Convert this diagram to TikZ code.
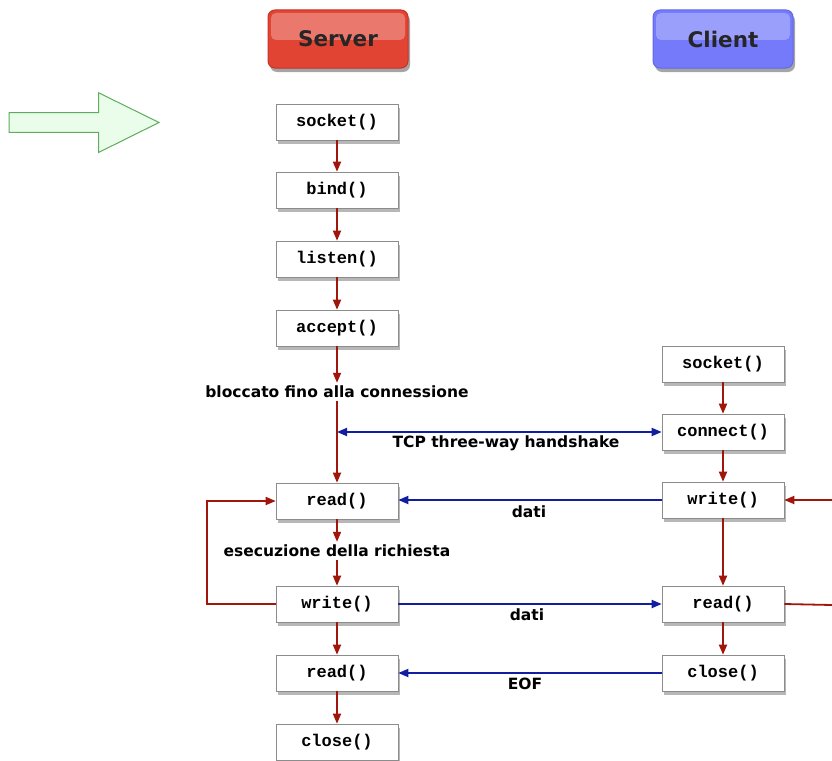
\documentclass[tikz,border=0pt]{standalone}
\usepackage{fontspec}
\setmainfont{DejaVu Sans}
\setmonofont{Liberation Mono}
\usetikzlibrary{arrows.meta,shadows,calc}

\definecolor{flowred}{RGB}{160,22,10}
\definecolor{flowblue}{RGB}{18,30,160}
\definecolor{srvfill}{RGB}{226,68,52}
\definecolor{srvline}{RGB}{200,50,38}
\definecolor{clifill}{RGB}{116,122,250}
\definecolor{cliline}{RGB}{98,104,236}
\definecolor{boxline}{RGB}{140,140,140}
\definecolor{hintfill}{RGB}{234,252,234}
\definecolor{hintline}{RGB}{92,174,92}

\tikzset{
  call/.style={draw=boxline, line width=0.6pt, fill=white,
    minimum width=122pt, minimum height=36pt, inner sep=0pt,
    font=\ttfamily\bfseries\fontsize{17}{19}\selectfont,
    drop shadow={shadow xshift=2pt, shadow yshift=-4pt, opacity=0.4, fill=black!70}},
  actor/.style={minimum width=140pt, minimum height=58pt, rounded corners=7pt,
    line width=1pt, inner sep=0pt,
    font=\bfseries\fontsize{21.5}{25}\selectfont, text=black!85,
    drop shadow={shadow xshift=2pt, shadow yshift=-4pt, opacity=0.5, fill=black!70},
    path picture={\fill[white, opacity=0.28, rounded corners=5pt]
      ([xshift=3pt,yshift=-3pt]path picture bounding box.north west) rectangle
      ([xshift=-3pt,yshift=-1pt]path picture bounding box.east);}},
  note/.style={font=\bfseries\fontsize{15.5}{18}\selectfont, inner sep=3pt},
  redflow/.style={draw=flowred, line width=1.8pt, -{Triangle[length=10pt,width=8pt]}},
  redline/.style={draw=flowred, line width=1.8pt},
  blueflow/.style={draw=flowblue, line width=1.8pt, -{Triangle[length=10pt,width=8pt]}},
}

\begin{document}
\begin{tikzpicture}[x=1pt,y=-1pt]
\useasboundingbox (0,0) rectangle (832,760);

% column headers
\node[actor, fill=srvfill, draw=srvline] (server) at (338,39) {Server};
\node[actor, fill=clifill, draw=cliline] (client) at (723,39) {Client};

% pointer arrow on the left
\draw[draw=hintline, fill=hintfill, line width=1pt, line join=miter]
  (9,112.5) -- (98.5,112.5) -- (98.5,92.7) -- (159,122.5) -- (98.5,152.5)
  -- (98.5,132.3) -- (9,132.3) -- cycle;

% server calls
\node[call] (ssock)   at (337,122) {socket()};
\node[call] (sbind)   at (337,190) {bind()};
\node[call] (slisten) at (337,259) {listen()};
\node[call] (saccept) at (337,328) {accept()};
\node[call] (sread)   at (337,501) {read()};
\node[call] (swrite)  at (337,604) {write()};
\node[call] (sread2)  at (337,673) {read()};
\node[call] (sclose)  at (337,742) {close()};

% client calls
\node[call] (csock)   at (723,364) {socket()};
\node[call] (cconn)   at (723,432) {connect()};
\node[call] (cwrite)  at (723,500) {write()};
\node[call] (cread)   at (723,604) {read()};
\node[call] (cclose)  at (723,673) {close()};

% annotations
\node[note] (blk)  at (337,392) {bloccato fino alla connessione};
\node[note] (exec) at (337,551) {esecuzione della richiesta};
\node[note] (tcp)  at (506,443) {TCP three-way handshake};
\node[note] (dat1) at (529,512) {dati};
\node[note] (dat2) at (527,615) {dati};
\node[note] (eof)  at (525,684) {EOF};

% server flow
\draw[redflow] (ssock) -- (sbind);
\draw[redflow] (sbind) -- (slisten);
\draw[redflow] (slisten) -- (saccept);
\draw[redflow] (saccept.south) -- (saccept.south |- blk.north);
\draw[redflow] (sread.north |- blk.south) -- (sread.north);
\draw[redflow] (sread.south) -- (sread.south |- exec.north);
\draw[redflow] (swrite.north |- exec.south) -- (swrite.north);
\draw[redflow] (swrite) -- (sread2);
\draw[redflow] (sread2) -- (sclose);

% loop back to read()
\coordinate (loopc) at (207,604);
\draw[redflow, line join=miter] (swrite.west) -- (loopc) |- (sread.west);

% client flow
\draw[redflow] (csock) -- (cconn);
\draw[redflow] (cconn) -- (cwrite);
\draw[redflow] (cwrite) -- (cread);
\draw[redflow] (cread) -- (cclose);
\coordinate (cin)  at (832,500);
\coordinate (cout) at (832,605);
\draw[redflow] (cin) -- (cwrite.east);
\draw[redline] (cread.east) -- (cout);

% exchanges between the two sides
\draw[blueflow, {Triangle[length=10pt,width=8pt]}-{Triangle[length=10pt,width=8pt]}]
  (cconn.west -| sread.north) -- (cconn.west);
\draw[blueflow] (cwrite.west) -- (cwrite.west -| sread.east);
\draw[blueflow] (swrite.east) -- (cread.west);
\draw[blueflow] (cclose.west) -- (cclose.west -| sread2.east);
\end{tikzpicture}
\end{document}
